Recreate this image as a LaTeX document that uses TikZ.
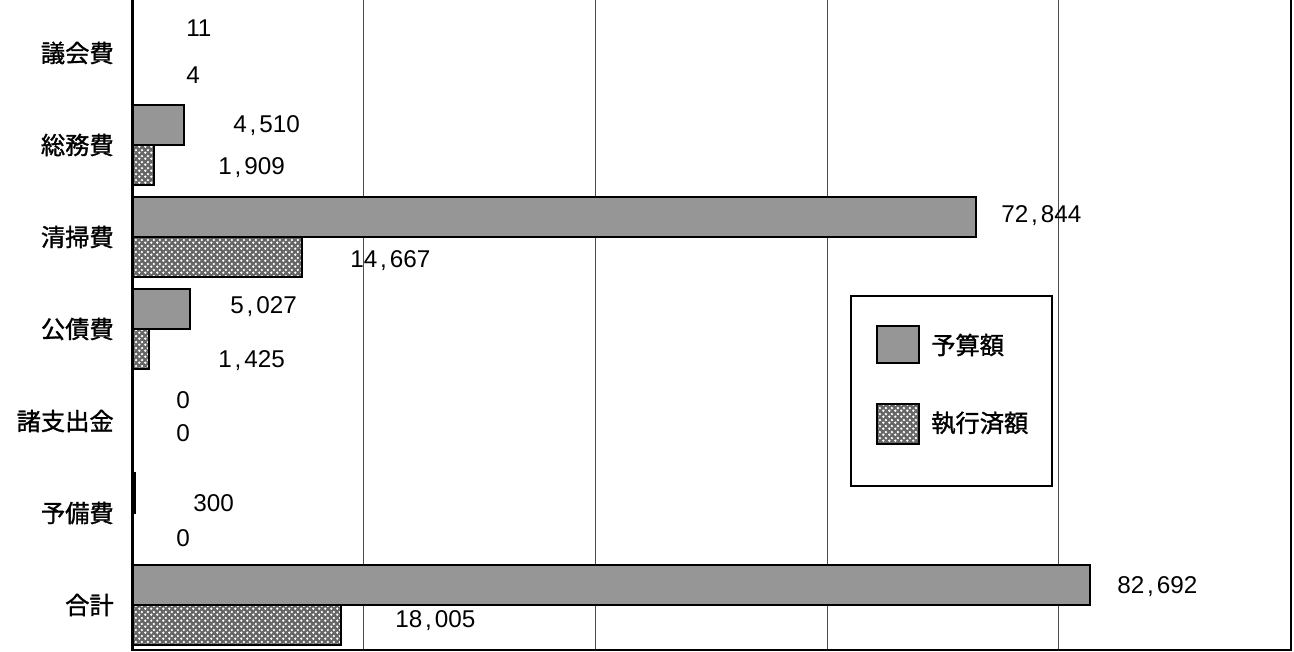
\documentclass[tikz,border=0pt]{standalone}
\usepackage{fontspec}
\setmainfont{Liberation Sans}
\newfontfamily\jpfont{Noto Sans CJK JP}[FakeBold=1.2]
\usetikzlibrary{patterns}
\definecolor{bargray}{RGB}{150,150,150}
\newcommand\cma{\kern2.2pt,\kern2.2pt}
\pgfdeclarepatternformonly{crossdots}{\pgfqpoint{0pt}{0pt}}{\pgfqpoint{4.5pt}{4.5pt}}{\pgfqpoint{4.5pt}{4.5pt}}{%
  \pgfpathcircle{\pgfqpoint{1.125pt}{1.125pt}}{1.1pt}%
  \pgfpathcircle{\pgfqpoint{3.375pt}{3.375pt}}{1.1pt}%
  \pgfusepath{fill}}

\begin{document}
\begin{tikzpicture}[x=0.75pt, y=-0.75pt,
    every node/.style={inner sep=0pt, font=\fontsize{18.2pt}{21pt}\selectfont},
    budget/.style={draw=black, line width=1.5pt, fill=bargray},
    execd/.style={draw=black, line width=1.5pt, preaction={fill=black!60}, pattern=crossdots, pattern color=white},
    grid line/.style={draw=black!70, line width=0.75pt},
    val/.style={anchor=west},
    cat/.style={anchor=east, font=\fontsize{18.2pt}{21pt}\selectfont\jpfont}]
        \useasboundingbox (0,0) rectangle (1294,652);
        % Linhas de grade (cada 20000)
        \foreach \gx in {363.7,595.4,827.1,1058.8}
            \draw[grid line] (\gx,0) -- (\gx,650);
        % Moldura do grafico
        \draw[line width=1.5pt] (132,650) -- (1291,650) -- (1291,0);
        % Categorias
        \node[cat] (cat1) at (114,53)  {議会費};
        \node[cat] (cat2) at (114,145) {総務費};
        \node[cat] (cat3) at (114,237) {清掃費};
        \node[cat] (cat4) at (114,329) {公債費};
        \node[cat] (cat5) at (114,421) {諸支出金};
        \node[cat] (cat6) at (114,513) {予備費};
        \node[cat] (cat7) at (114,605) {合計};
        % Barras (valor em milhares * 11.585)
        \draw[budget] (132,13)  rectangle ({132+0.011*11.585},53);
        \draw[execd]  (132,53)  rectangle ({132+0.004*11.585},93);
        \draw[budget] (132,105) rectangle ({132+4.510*11.585},145);
        \draw[execd]  (132,145) rectangle ({132+1.909*11.585},185);
        \draw[budget] (132,197) rectangle ({132+72.844*11.585},237);
        \draw[execd]  (132,237) rectangle ({132+14.667*11.585},277);
        \draw[budget] (132,289) rectangle ({132+5.027*11.585},329);
        \draw[execd]  (132,329) rectangle ({132+1.425*11.585},369);
        \draw[budget] (132,473) rectangle ({132+0.300*11.585},513);
        \draw[budget] (132,565) rectangle ({132+82.692*11.585},605);
        \draw[execd]  (132,605) rectangle ({132+18.005*11.585},645);
        % Eixo vertical
        \draw[line width=2.25pt] (132,0) -- (132,651);
        % Rotulos dos valores
        \node[val] (bud1) at (186,28)  {11};
        \node[val] (exe1) at (186,75)  {4};
        \node[val] (bud2) at (233,126) {4\cma510};
        \node[val] (exe2) at (218,168) {1\cma909};
        \node[val] (bud3) at (1001,216) {72\cma844};
        \node[val] (exe3) at (350,261) {14\cma667};
        \node[val] (bud4) at (230,307) {5\cma027};
        \node[val] (exe4) at (218,361) {1\cma425};
        \node[val] (bud5) at (176,400) {0};
        \node[val] (exe5) at (176,433) {0};
        \node[val] (bud6) at (193,503) {300};
        \node[val] (exe6) at (176,538) {0};
        \node[val] (bud7) at (1117,587) {82\cma692};
        \node[val] (exe7) at (395,621) {18\cma005};
        % Legenda
        \draw[line width=1.2pt, fill=white] (851,296) rectangle (1052,486);
        \draw[budget] (877,326) rectangle (919,363);
        \node[cat, anchor=west] (legbud) at (931,345) {予算額};
        \draw[execd] (877,404) rectangle (919,444);
        \node[cat, anchor=west] (legexe) at (931,423) {執行済額};
    \end{tikzpicture}
\end{document}
